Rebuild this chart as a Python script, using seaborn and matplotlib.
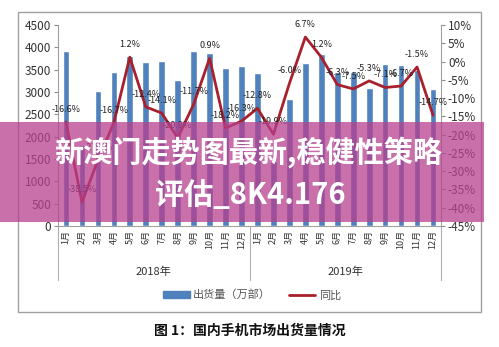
import numpy as np
import pandas as pd
import matplotlib
matplotlib.use('Agg')
import matplotlib.pyplot as plt
import matplotlib.transforms as mtransforms
from matplotlib.patches import Rectangle, Patch
from matplotlib.lines import Line2D
import seaborn as sns

# ---------------- data ----------------
months = ['1月', '2月', '3月', '4月', '5月', '6月', '7月', '8月', '9月', '10月', '11月', '12月']
years = ['2018年', '2019年']
shipments_2018 = [3915, 1810, 3027, 3440, 3800, 3675, 3705, 3266, 3915, 3863, 3542, 3580]
shipments_2019 = [3415, 1450, 2840, 3660, 3846, 3456, 3456, 3100, 3624, 3609, 3490, 3058]
yoy_2018 = [-16.6, -38.5, -27.0, -16.7, 1.2, -12.4, -14.1, -20.9, -11.7, 0.9, -18.2, -16.3]
yoy_2019 = [-12.8, -19.9, -6.0, 6.7, 1.2, -6.3, -7.5, -5.3, -7.1, -6.7, -1.5, -14.7]
left_ticks = [0, 500, 1000, 1500, 2000, 2500, 3000, 3500, 4000, 4500]
right_ticks = [-45, -40, -35, -30, -25, -20, -15, -10, -5, 0, 5, 10]
legend_labels = ['出货量（万部）', '同比']
caption = '图 1：国内手机市场出货量情况'
banner_line1 = '新澳门走势图最新,稳健性策略'
banner_line2 = '评估_8K4.176'

# ---------------- style ----------------
sns.set_theme(style='white')
plt.rcParams['font.family'] = ['Noto Sans CJK SC', 'DejaVu Sans']
plt.rcParams['axes.unicode_minus'] = False

BAR = '#4f81bd'
LINE = '#a8202c'
GRAY = '#8c8c8c'
TXT = '#333333'

W, H = 499, 347
fig = plt.figure(figsize=(W / 100, H / 100), dpi=100)
fig.patch.set_facecolor('white')


def fx(px):
    return px / W


def fy(py):
    return 1 - py / H


ax = fig.add_axes([fx(58), fy(226), fx(441) - fx(58), fy(25) - fy(226)])

cats = [f'{y}{m}' for y in years for m in months]
df = pd.DataFrame({'cat': cats,
                   'shipments': shipments_2018 + shipments_2019,
                   'yoy': yoy_2018 + yoy_2019})
df['pos'] = np.arange(len(df))

sns.barplot(data=df, x='cat', y='shipments', order=cats, color=BAR,
            saturation=1, width=0.42, ax=ax, zorder=2)
ax.set_xlim(-0.5, len(cats) - 0.5)
ax.set_ylim(0, 4500)
ax.set_xlabel('')
ax.set_ylabel('')
ax.set_yticks(left_ticks)
ax.set_yticklabels([str(t) for t in left_ticks], fontsize=8.5, color=TXT)

ax.set_xticks(df['pos'])
ax.set_xticklabels(months * 2, rotation=90, fontsize=6.5, color=TXT)
ax.set_xticks(np.arange(-0.5, len(cats), 1), minor=True)
ax.tick_params(axis='x', which='major', length=0, pad=3)
ax.tick_params(axis='x', which='minor', length=24, color='#b0b0b0', width=0.8, direction='out')
ax.tick_params(axis='y', which='major', length=3, color=GRAY, width=0.8, direction='out', pad=2, left=True)

for s in ['top', 'right']:
    ax.spines[s].set_visible(False)
for s in ['left', 'bottom']:
    ax.spines[s].set_color('#a0a0a0')
    ax.spines[s].set_linewidth(0.8)

ax2 = ax.twinx()
sns.lineplot(data=df, x='pos', y='yoy', ax=ax2, color=LINE, lw=2.0, zorder=3)
ax2.set_ylim(-45, 10)
ax2.set_xlim(-0.5, len(cats) - 0.5)
ax2.set_xlabel('')
ax2.set_ylabel('')
ax2.set_yticks(right_ticks)
ax2.set_yticklabels([f'{t}%' for t in right_ticks], fontsize=8.5, color=TXT)
ax2.tick_params(axis='y', length=3, color=GRAY, width=0.8, direction='out', pad=2, right=True)
for s in ['top', 'left', 'bottom']:
    ax2.spines[s].set_visible(False)
ax2.spines['right'].set_color('#a0a0a0')
ax2.spines['right'].set_linewidth(0.8)

for p, v in zip(df['pos'], df['yoy']):
    ax2.annotate(f'{v:.1f}%', (p, v), xytext=(0, 9), textcoords='offset points',
                 ha='center', va='center', fontsize=6.5, color='#222222', zorder=4)

# two-level category axis: year dividers and labels
trans = mtransforms.blended_transform_factory(ax.transData, ax.transAxes)
for xb in [-0.5, 11.5, 23.5]:
    ax.add_line(Line2D([xb, xb], [0, -0.27], transform=trans, color='#b0b0b0',
                       lw=0.8, clip_on=False))
for i, y in enumerate(years):
    ax.text(5.5 + 12 * i, -0.229, y, transform=trans, ha='center', va='center',
            fontsize=8, color=TXT)

# legend
handles = [Patch(facecolor=BAR, edgecolor=BAR), Line2D([], [], color=LINE, lw=2)]
fig.legend(handles, legend_labels, loc='center', bbox_to_anchor=(fx(252), fy(295)),
           ncol=2, frameon=False, fontsize=8, handlelength=2.4, handleheight=0.5,
           columnspacing=1.6, handletextpad=0.3, labelcolor='#555555')

# chart border
fig.add_artist(Rectangle((fx(18), fy(312)), fx(481) - fx(18), fy(12) - fy(312),
                         transform=fig.transFigure, fill=False, ec='#a0a0a0', lw=1))

# caption
fig.text(fx(250), fy(331), caption, ha='center', va='center', fontsize=10,
         fontweight='bold', color='#111111')

# overlay banner
fig.add_artist(Rectangle((0, fy(222)), fx(484), fy(122) - fy(222),
                         transform=fig.transFigure, facecolor='#b8408f', alpha=0.75,
                         edgecolor='none', zorder=10))
fig.text(fx(248), fy(152), banner_line1, ha='center', va='center', fontsize=21,
         fontweight='bold', color='white', zorder=11)
fig.text(fx(250), fy(195), banner_line2, ha='center', va='center', fontsize=21,
         fontweight='bold', color='white', zorder=11)

fig.savefig('out.png', dpi=100)
